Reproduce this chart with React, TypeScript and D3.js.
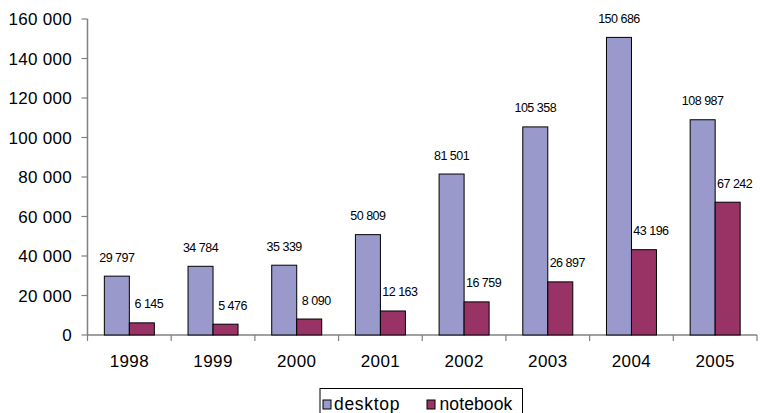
import React from "react";
import * as d3 from "d3";

const years = ["1998", "1999", "2000", "2001", "2002", "2003", "2004", "2005"];
const desktop = [29797, 34784, 35339, 50809, 81501, 105358, 150686, 108987];
const notebook = [6145, 5476, 8090, 12163, 16759, 26897, 43196, 67242];
const seriesNames = ["desktop", "notebook"];
const yTicks = [0, 20000, 40000, 60000, 80000, 100000, 120000, 140000, 160000];

const colors = ["#9999CC", "#993366"];
const W = 760;
const H = 413;
const left = 87.5;
const right = 757;
const top = 19;
const bottom = 335;

const fmt = (v: number) => {
  const s = String(v);
  return s.replace(/\B(?=(\d{3})+(?!\d))/g, " ");
};

export default function App() {
  const x = d3.scaleBand<string>().domain(years).range([left, right]).paddingInner(0).paddingOuter(0);
  const y = d3.scaleLinear().domain([0, 160000]).range([bottom, top]);
  const barW = 25;
  const series = [desktop, notebook];
  const font = "'Liberation Sans', Arial, sans-serif";

  return (
    <svg
      width={W}
      height={H}
      style={{ position: "absolute", left: 0, top: 0, background: "#fff" }}
      fontFamily={font}
    >
      {/* y axis */}
      <line x1={left} x2={left} y1={top} y2={bottom} stroke="#808080" strokeWidth={1.5} />
      {yTicks.map((t) => (
        <g key={t}>
          <line x1={left - 6} x2={left} y1={y(t)} y2={y(t)} stroke="#808080" strokeWidth={1.2} />
          <text x={72} y={y(t)} dy="0.36em" textAnchor="end" fontSize={17} letterSpacing={0.3} fill="#000">
            {fmt(t)}
          </text>
        </g>
      ))}
      {/* x axis */}
      <line x1={left} x2={right} y1={bottom} y2={bottom} stroke="#808080" strokeWidth={1.5} />
      {years.map((yr) => (
        <line
          key={"t" + yr}
          x1={(x(yr) as number) + x.bandwidth()}
          x2={(x(yr) as number) + x.bandwidth()}
          y1={bottom}
          y2={bottom + 6}
          stroke="#808080"
          strokeWidth={1.2}
        />
      ))}
      <line x1={left} x2={left} y1={bottom} y2={bottom + 6} stroke="#808080" strokeWidth={1.2} />
      {years.map((yr) => (
        <text
          key={"l" + yr}
          x={(x(yr) as number) + x.bandwidth() / 2}
          y={361}
          dy="0.36em"
          textAnchor="middle"
          fontSize={17}
          letterSpacing={0.4}
        >
          {yr}
        </text>
      ))}
      {/* bars */}
      {series.map((vals, si) =>
        years.map((yr, i) => {
          const cx = (x(yr) as number) + x.bandwidth() / 2;
          const bx = cx - barW + si * barW;
          const v = vals[i];
          return (
            <g key={si + "-" + yr}>
              <rect
                x={bx}
                y={y(v)}
                width={barW}
                height={bottom - y(v)}
                fill={colors[si]}
                stroke="#000"
                strokeWidth={1}
              />
              <text
                x={bx + barW / 2 + (si === 1 ? 7 : 0)}
                y={y(v) - 19}
                dy="0.36em"
                textAnchor="middle"
                fontSize={12.5}
                letterSpacing={-0.5}
              >
                {fmt(v)}
              </text>
            </g>
          );
        })
      )}
      {/* legend */}
      <rect x={320} y={388.5} width={202.5} height={40} fill="#fff" stroke="#000" strokeWidth={1} />
      {seriesNames.map((n, i) => {
        const sx = i === 0 ? 323 : 427;
        return (
          <g key={n}>
            <rect x={sx} y={400} width={8} height={9} fill={colors[i]} stroke="#000" strokeWidth={1} />
            <text x={sx + (i === 0 ? 11 : 12.5)} y={410} fontSize={17.5} letterSpacing={i === 0 ? 0.7 : 0.1}>
              {n}
            </text>
          </g>
        );
      })}
    </svg>
  );
}
